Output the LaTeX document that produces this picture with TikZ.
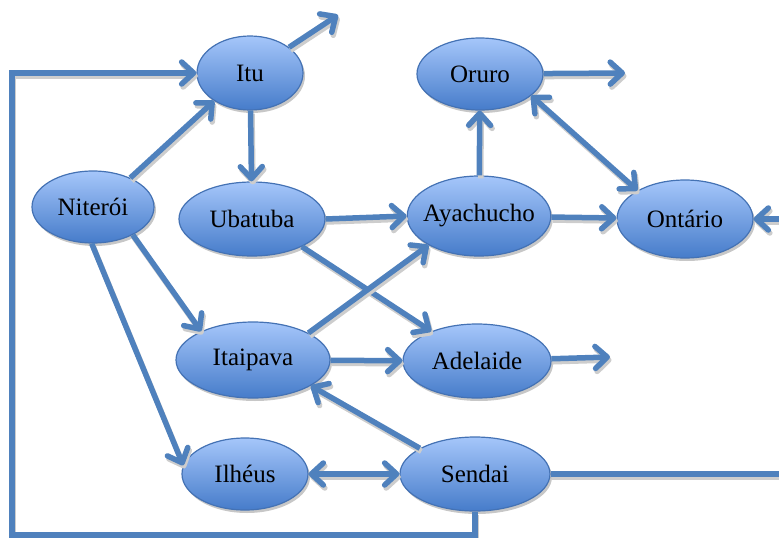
\documentclass[tikz,border=0pt]{standalone}
\usepackage{fontspec}
\setmainfont{Liberation Serif}
\usetikzlibrary{arrows.meta,shapes.geometric,shadows}
\definecolor{edgeblue}{RGB}{79,129,189}
\definecolor{nodetop}{RGB}{165,198,250}
\definecolor{nodebot}{RGB}{70,124,202}
\definecolor{nodeline}{RGB}{68,114,180}
\definecolor{shadowgray}{RGB}{205,205,205}
\begin{document}
\begin{tikzpicture}[x=1pt,y=-1pt,
  city/.style={ellipse, draw=nodeline, line width=1.2pt, top color=nodetop, bottom color=nodebot,
    inner sep=0pt, font=\fontsize{25}{29}\selectfont,
    drop shadow={shadow xshift=2pt,shadow yshift=-3pt,fill=black!22,opacity=1}},
  conn/.style={draw=edgeblue, line width=5.5pt,
    preaction={draw=shadowgray, line width=5.5pt, transform canvas={shift={(1.5pt,-3pt)}}}},
  tip/.style={-{Straight Barb[length=12pt,width=22pt,line cap=round,line join=round]}},
  twotips/.style={{Straight Barb[length=12pt,width=22pt,line cap=round,line join=round]}-{Straight Barb[length=12pt,width=22pt,line cap=round,line join=round]}}
]
\useasboundingbox (0,0) rectangle (779,538);

\node[city, minimum width=106pt, minimum height=74pt] (Itu) at (250,73) {Itu};
\node[city, minimum width=126pt, minimum height=72pt] (Oruro) at (480,74) {Oruro};
\node[city, minimum width=122pt, minimum height=72pt] (Niteroi) at (93,207) {Niterói};
\node[city, minimum width=146pt, minimum height=74pt] (Ubatuba) at (252,219) {Ubatuba};
\node[city, minimum width=143pt, minimum height=80pt, inner xsep=-5pt] (Ayachucho) at (479,216) {Ayachucho};
\node[city, minimum width=136pt, minimum height=78pt] (Ontario) at (685,219) {Ontário};
\node[city, minimum width=154pt, minimum height=76pt] (Itaipava) at (253,360) {Itaipava};
\node[city, minimum width=148pt, minimum height=74pt] (Adelaide) at (477,361) {Adelaide};
\node[city, minimum width=126pt, minimum height=72pt] (Ilheus) at (245,474) {Ilhéus};
\node[city, minimum width=150pt, minimum height=74pt] (Sendai) at (475,474) {Sendai};

\coordinate (ituOut) at (338,15);
\coordinate (oruroOut) at (625,73);
\coordinate (adelOut) at (610,357);
\coordinate (ontIn) at (779,219);
\coordinate (sendOut) at (779,474);
\coordinate (loopB) at (12,535);

\draw[conn,tip] (Itu) -- (ituOut);
\draw[conn,tip] (Itu) -- (Ubatuba);
\draw[conn,tip] (Niteroi.38) -- (Itu.-142);
\draw[conn,tip] (Niteroi.-35) -- (Itaipava.151);
\draw[conn,tip] (Niteroi.-92) -- (Ilheus.172);
\draw[conn,tip] (Sendai.south) |- (loopB) |- (Itu.west);
\draw[conn,tip] (Oruro) -- (oruroOut);
\draw[conn,twotips] (Oruro.-23) -- (Ontario.149);
\draw[conn,tip] (Ayachucho) -- (Oruro);
\draw[conn,tip] (Ubatuba.east) -- (Ayachucho.west);
\draw[conn,tip] (Ubatuba.-29) -- (Adelaide.147);
\draw[conn,tip] (Ayachucho) -- (Ontario);
\draw[conn,tip] (ontIn) -- (Ontario);
\draw[conn,tip] (Itaipava.26) -- (Ayachucho.210);
\draw[conn,tip] (Itaipava) -- (Adelaide);
\draw[conn,tip] (Adelaide) -- (adelOut);
\draw[conn,tip] (Sendai.155) -- (Itaipava.-24);
\draw[conn,twotips] (Ilheus) -- (Sendai);
\draw[conn] (Sendai) -- (sendOut);
\end{tikzpicture}
\end{document}
